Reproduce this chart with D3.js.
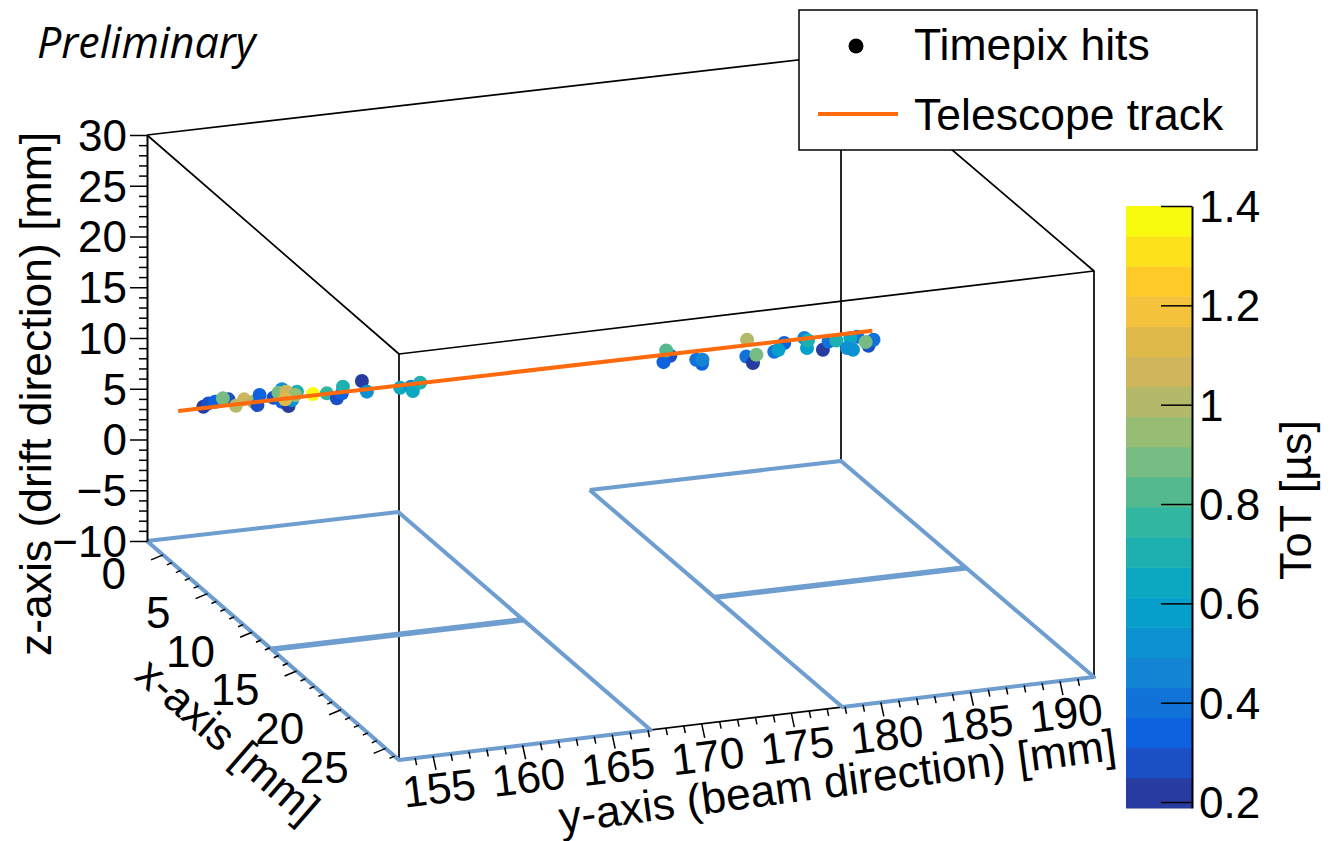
<!DOCTYPE html>
<html>
<head>
<meta charset="utf-8">
<script src="https://cdn.jsdelivr.net/npm/d3@7"></script>
<style>
	html, body { margin: 0; padding: 0; background: #fff; }
	svg { display: block; }
	text { font-family: "Liberation Sans", Arial, sans-serif; fill: #000; }
	.axis path, .axis line { stroke: #000; }
	.axis text { font-size: 44px; font-family: "Liberation Sans", Arial, sans-serif; }
</style>
</head>
<body>
<script>
// axis ranges and ticks
var xDomain = [-1.8, 26.5],
	yDomain = [153.1, 191.9],
	zDomain = [-10, 30],
	totDomain = [0.188, 1.4];
var xTicks = [0, 5, 10, 15, 20, 25],
	yTicks = [155, 160, 165, 170, 175, 180, 185, 190],
	zTicks = [-10, -5, 0, 5, 10, 15, 20, 25, 30],
	totTicks = [0.2, 0.4, 0.6, 0.8, 1, 1.2, 1.4];

// hits, all on the x position of the track: [y, z, ToT]
var hitX = 1.7;
var hitY = [154.51, 154.79, 155.17, 155.91, 155.60, 156.33, 156.79, 157.31, 157.53, 157.65, 158.43, 158.90, 158.90, 159.27, 159.46, 159.74, 158.71, 159.14, 159.64, 159.08, 160.63, 161.41, 161.97, 162.25, 162.31, 163.37, 163.65, 165.51, 166.11, 166.22, 166.63,
	180.61, 180.23, 180.38, 182.38, 182.06, 182.41, 184.90, 184.86, 185.23, 185.42, 186.98, 186.42, 186.66, 188.10, 188.25, 188.31, 189.14, 189.46, 189.89, 191.06, 190.67, 190.49, 190.82, 191.69, 191.97, 191.53];
var hitZ = [5.61, 5.88, 5.96, 6.05, 6.21, 5.34, 5.87, 5.53, 5.16, 6.12, 5.70, 6.43, 5.21, 4.71, 5.26, 6.02, 6.13, 6.14, 5.72, 5.41, 5.62, 5.52, 4.92, 5.35, 5.99, 6.34, 5.23, 5.24, 5.22, 4.77, 5.51,
	5.30, 4.75, 5.87, 4.15, 4.61, 4.54, 6.00, 4.37, 3.64, 4.42, 5.26, 4.51, 4.66, 5.52, 4.51, 5.24, 4.16, 4.91, 4.92, 5.05, 5.00, 4.05, 3.82, 4.03, 4.57, 4.43];
var hitTot = [0.22, 0.3, 0.35, 0.3, 0.9, 1.0, 1.05, 0.98, 0.3, 0.35, 0.25, 0.55, 0.35, 0.22, 0.5, 0.72, 0.88, 1.05, 0.95, 1.15, 1.4, 0.75, 0.25, 0.35, 0.68, 0.22, 0.5, 0.65, 0.45, 0.62, 0.68,
	0.25, 0.32, 0.8, 0.35, 0.42, 0.48, 1.0, 0.42, 0.22, 0.88, 0.35, 0.38, 0.6, 0.45, 0.6, 0.72, 0.22, 0.4, 0.72, 0.42, 0.62, 0.55, 0.5, 0.25, 0.4, 0.88];

// track and telescope planes
var trackX = 1.7, trackY = [153.1, 191.9], trackZ = [5.47, 5.47];
var planeY = [[153.1, 167.15], [177.85, 191.9]];
var planeMidX = 12.2;

// palette of the colour bar, low to high
var totColors = ['#283ba0', '#1a4fc6', '#0e62e0', '#1173d9', '#1485d4', '#0c92d2', '#07a0cc', '#0ca8c2', '#1eb0b1', '#31b6a1',
	'#55b98f', '#76bc83', '#97bc74', '#b3b968', '#cfb55c', '#e0b94b', '#f4c23c', '#fecb28', '#fde11b', '#f9fb0e'];

var width = 1340, height = 841;
var blue = '#6e9dcf', orange = '#ff6a0d';

var svg = d3.select('body').append('svg').attr('width', width).attr('height', height);

// screen corners of the floor, the box is a little off parallel
var cA = [147, 541], cB = [399, 760], cC = [1094, 677], cD = [841, 461];
var boxHeight = 406;

var u = d3.scaleLinear().domain(xDomain).range([0, 1]);
var v = d3.scaleLinear().domain(yDomain).range([0, 1]);
var w = d3.scaleLinear().domain(zDomain).range([0, boxHeight]);

var project = function (x, y, z) {
	var a = u(x), b = v(y);
	return [0, 1].map(function (i) {
		var p = cA[i] + a * (cB[i] - cA[i]) + b * (cD[i] - cA[i]) + a * b * (cA[i] + cC[i] - cB[i] - cD[i]);
		return i === 1 ? p - w(z) : p;
	});
};

var line3d = function (pts, color, lineWidth) {
	svg.append('path')
		.attr('d', d3.line()(pts.map(function (p) { return project(p[0], p[1], p[2]); })))
		.attr('fill', 'none')
		.attr('stroke', color)
		.attr('stroke-width', lineWidth)
		.attr('stroke-linejoin', 'round');
};

var xMin = xDomain[0], xMax = xDomain[1], yMin = yDomain[0], yMax = yDomain[1], zMin = zDomain[0], zMax = zDomain[1];

// box
line3d([[xMin, yMin, zMax], [xMax, yMin, zMax], [xMax, yMax, zMax], [xMin, yMax, zMax], [xMin, yMin, zMax]], '#000', 1.7);
line3d([[xMax, yMin, zMin], [xMax, yMin, zMax]], '#000', 1.7);
line3d([[xMax, yMax, zMin], [xMax, yMax, zMax]], '#000', 1.7);
line3d([[xMin, yMax, zMin], [xMin, yMax, zMax]], '#000', 1.7);
line3d([[xMax, yMin, zMin], [xMax, yMax, zMin]], '#000', 1.7);

// telescope planes on the floor
planeY.forEach(function (r) {
	line3d([[xMin, r[0], zMin], [xMax, r[0], zMin], [xMax, r[1], zMin], [xMin, r[1], zMin], [xMin, r[0], zMin]], blue, 4);
	line3d([[planeMidX, r[0], zMin], [planeMidX, r[1], zMin]], blue, 5.5);
});

// hits
var totColor = d3.scaleQuantize().domain(totDomain).range(totColors);
svg.append('g').selectAll('circle').data(hitY).enter().append('circle')
	.attr('cx', function (d, i) { return project(hitX, d, hitZ[i])[0]; })
	.attr('cy', function (d, i) { return project(hitX, d, hitZ[i])[1]; })
	.attr('r', 7)
	.attr('fill', function (d, i) { return totColor(hitTot[i]); });

// track
line3d([[trackX, trackY[0], trackZ[0]], [trackX, trackY[1], trackZ[1]]], orange, 4);

// z axis
var zScale = d3.scaleLinear().domain(zDomain).range([cA[1], cA[1] - boxHeight]);
var zAxisEl = svg.append('g').attr('class', 'axis').attr('transform', 'translate(' + cA[0] + ',0)');
zAxisEl.call(d3.axisLeft(zScale).tickValues(zTicks).tickSize(17).tickPadding(3).tickSizeOuter(0));
zAxisEl.select('.domain').attr('stroke-width', 2);
zAxisEl.selectAll('line').attr('stroke-width', 1.5);
zAxisEl.selectAll('text').attr('dy', '0.35em');
var zMinor = d3.range(zDomain[0], zDomain[1] + 1).filter(function (d) { return d % 5 !== 0; });
svg.append('g').attr('class', 'axis').attr('transform', 'translate(' + cA[0] + ',0)')
	.call(d3.axisLeft(zScale).tickValues(zMinor).tickSize(8).tickFormat('').tickSizeOuter(0))
	.call(function (g) { g.select('.domain').remove(); g.selectAll('line').attr('stroke-width', 1.5); });

// x axis along the left floor edge
var xMinor = d3.range(0, 27);
svg.append('g').selectAll('path').data(xMinor).enter().append('path')
	.attr('d', function (d) {
		var p = project(d, yMin, zMin), major = d % 5 === 0;
		return d3.line()([p, [p[0] - (major ? 12 : 5), p[1] + (major ? 5 : 2.2)]]);
	})
	.attr('stroke', '#000').attr('stroke-width', 1.5);
svg.append('g').selectAll('text').data(xTicks).enter().append('text')
	.attr('x', function (d) { return project(d, yMin, zMin)[0] - 37; })
	.attr('y', function (d) { return project(d, yMin, zMin)[1] + 19; })
	.attr('dy', '0.35em')
	.attr('text-anchor', 'end')
	.attr('font-size', 44)
	.text(function (d) { return d; });

// y axis along the front floor edge
var yMinor = d3.range(154, 192);
svg.append('g').selectAll('path').data(yMinor).enter().append('path')
	.attr('d', function (d) {
		var p = project(xMax, d, zMin), major = d % 5 === 0;
		return d3.line()([p, [p[0] + (major ? 3 : 1.5), p[1] + (major ? 14 : 7)]]);
	})
	.attr('stroke', '#000').attr('stroke-width', 1.5);
svg.append('g').selectAll('text').data(yTicks).enter().append('text')
	.attr('transform', function (d) {
		var p = project(xMax, d, zMin);
		return 'translate(' + (p[0] + 6) + ',' + (p[1] + 32) + ') rotate(-7)';
	})
	.attr('dy', '0.35em')
	.attr('text-anchor', 'middle')
	.attr('font-size', 44)
	.text(function (d) { return d; });

// axis titles
svg.append('text').attr('transform', 'translate(51,394) rotate(-90)')
	.attr('text-anchor', 'middle').attr('font-size', 44.5).text('z-axis (drift direction) [mm]');
svg.append('text').attr('transform', 'translate(133,678) rotate(41)')
	.attr('font-size', 44).text('x-axis [mm]');
svg.append('text').attr('transform', 'translate(561,833) rotate(-7.5)')
	.attr('font-size', 44.5).text('y-axis (beam direction) [mm]');

// colour bar
var barLeft = 1126, barRight = 1192, barTop = 206, barBottom = 808;
var totScale = d3.scaleLinear().domain(totDomain).range([barBottom, barTop]);
var band = (totDomain[1] - totDomain[0]) / totColors.length;
svg.append('g').selectAll('rect').data(totColors).enter().append('rect')
	.attr('x', barLeft)
	.attr('width', barRight - barLeft)
	.attr('y', function (d, i) { return totScale(totDomain[0] + (i + 1) * band); })
	.attr('height', (barBottom - barTop) / totColors.length + 0.5)
	.attr('fill', function (d) { return d; });
var totAxisEl = svg.append('g').attr('class', 'axis').attr('transform', 'translate(' + barRight + ',0)');
totAxisEl.call(d3.axisRight(totScale).tickValues(totTicks).tickSizeInner(-31).tickSizeOuter(0).tickPadding(7).tickFormat(function (d) { return d; }));
totAxisEl.select('.domain').attr('stroke-width', 2);
totAxisEl.selectAll('line').attr('stroke-width', 1.5);
totAxisEl.selectAll('text').attr('dy', '0.35em');
svg.append('text').attr('transform', 'translate(1311,500) rotate(-90)')
	.attr('text-anchor', 'middle').attr('font-size', 45).text('ToT [µs]');

// legend
svg.append('rect').attr('x', 799).attr('y', 10).attr('width', 458).attr('height', 140)
	.attr('fill', '#fff').attr('stroke', '#000').attr('stroke-width', 1.5);
svg.append('circle').attr('cx', 856).attr('cy', 46).attr('r', 7.5).attr('fill', '#000');
svg.append('line').attr('x1', 818).attr('x2', 898).attr('y1', 114).attr('y2', 114)
	.attr('stroke', orange).attr('stroke-width', 4);
svg.append('text').attr('x', 914).attr('y', 60).attr('font-size', 44.5).text('Timepix hits');
svg.append('text').attr('x', 914).attr('y', 130).attr('font-size', 44.5).text('Telescope track');

svg.append('text').attr('x', 37).attr('y', 58).attr('font-size', 43).attr('font-style', 'italic')
	.style('font-family', '"Open Sans", sans-serif').text('Preliminary');
</script>
</body>
</html>
